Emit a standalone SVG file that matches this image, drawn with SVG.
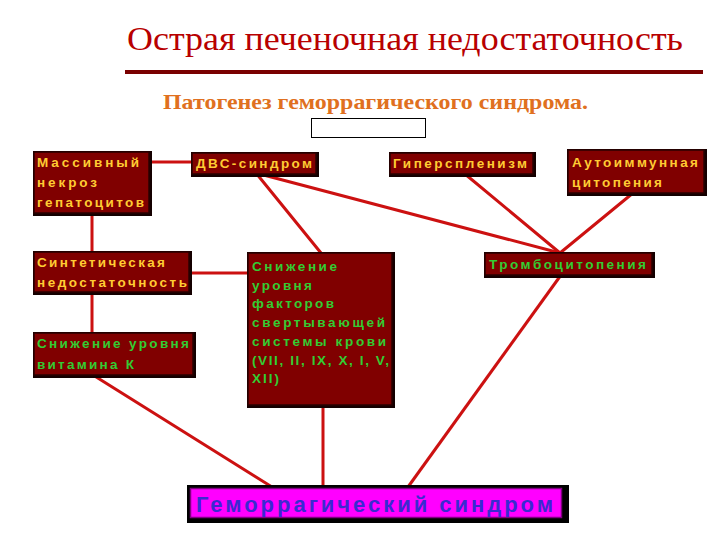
<svg xmlns="http://www.w3.org/2000/svg" width="720" height="540" viewBox="0 0 720 540">
<style>
.sh{fill:#140000}
.bx{fill:#800000;stroke:#2a0000;stroke-width:1.5}
.t{font-family:"Liberation Sans",Arial,sans-serif;font-weight:bold;font-size:13.5px}
.y{fill:#ffcc33}
.g{fill:#33cc33}
.c{stroke:#cc1111;stroke-width:3;fill:none;stroke-linecap:round}
</style>
<rect width="720" height="540" fill="#ffffff"/>
<text x="127" y="50" font-family="'Liberation Serif','Times New Roman',serif" font-size="33" fill="#b80000" textLength="556" lengthAdjust="spacingAndGlyphs">Острая печеночная недостаточность</text>
<rect x="125" y="70" width="578" height="4" fill="#7a0000"/>
<text x="163" y="109" font-family="'Liberation Serif','Times New Roman',serif" font-size="21" font-weight="bold" fill="#e07020" textLength="425" lengthAdjust="spacingAndGlyphs">Патогенез геморрагического синдрома.</text>
<rect x="311.5" y="118.5" width="114" height="19" fill="#ffffff" stroke="#000000" stroke-width="1"/>
<g id="connectors">
<line class="c" x1="149" y1="162" x2="192" y2="162"/>
<line class="c" x1="92" y1="213" x2="92" y2="252"/>
<line class="c" x1="92" y1="292" x2="92" y2="333"/>
<line class="c" x1="189" y1="273" x2="248" y2="273"/>
<line class="c" x1="256" y1="173" x2="321" y2="253"/>
<line class="c" x1="256" y1="173" x2="560" y2="253"/>
<line class="c" x1="465" y1="174" x2="560" y2="253"/>
<line class="c" x1="633" y1="193" x2="560" y2="253"/>
<line class="c" x1="561" y1="275" x2="408" y2="487"/>
<line class="c" x1="93" y1="375" x2="272" y2="487"/>
<line class="c" x1="323" y1="405" x2="323" y2="487"/>
</g>
<g id="n1">
<rect class="sh" x="33" y="151" width="119" height="65"/>
<rect class="bx" x="34" y="152" width="115" height="61"/>
<text class="t y" x="37" y="167" textLength="102" lengthAdjust="spacing">Массивный</text>
<text class="t y" x="37" y="187" textLength="60" lengthAdjust="spacing">некроз</text>
<text class="t y" x="37" y="207" textLength="107" lengthAdjust="spacing">гепатоцитов</text>
</g>
<g id="n2">
<rect class="sh" x="191" y="152" width="128" height="25"/>
<rect class="bx" x="192" y="153" width="124" height="21"/>
<text class="t y" x="196" y="168" textLength="116" lengthAdjust="spacing">ДВС-синдром</text>
</g>
<g id="n3">
<rect class="sh" x="389" y="152" width="147" height="25"/>
<rect class="bx" x="390" y="153" width="143" height="21"/>
<text class="t y" x="393" y="168" textLength="134" lengthAdjust="spacing">Гиперспленизм</text>
</g>
<g id="n4">
<rect class="sh" x="567" y="149" width="140" height="47"/>
<rect class="bx" x="568" y="150" width="136" height="43"/>
<text class="t y" x="572" y="167" textLength="126" lengthAdjust="spacing">Аутоиммунная</text>
<text class="t y" x="572" y="187" textLength="90" lengthAdjust="spacing">цитопения</text>
</g>
<g id="n5">
<rect class="sh" x="33" y="251" width="159" height="44"/>
<rect class="bx" x="34" y="252" width="155" height="40"/>
<text class="t y" x="37" y="267" textLength="128" lengthAdjust="spacing">Синтетическая</text>
<text class="t y" x="37" y="287" textLength="150" lengthAdjust="spacing">недостаточность</text>
</g>
<g id="n6">
<rect class="sh" x="33" y="332" width="163" height="46"/>
<rect class="bx" x="34" y="333" width="159" height="42"/>
<text class="t g" x="37" y="348" textLength="152" lengthAdjust="spacing">Снижение уровня</text>
<text class="t g" x="37" y="369" textLength="97" lengthAdjust="spacing">витамина К</text>
</g>
<g id="n7">
<rect class="sh" x="247" y="252" width="148" height="156"/>
<rect class="bx" x="248" y="253" width="144" height="152"/>
<text class="t g" x="252" y="271" textLength="85" lengthAdjust="spacing">Снижение</text>
<text class="t g" x="252" y="290" textLength="60" lengthAdjust="spacing">уровня</text>
<text class="t g" x="252" y="308" textLength="82" lengthAdjust="spacing">факторов</text>
<text class="t g" x="252" y="327" textLength="133" lengthAdjust="spacing">свертывающей</text>
<text class="t g" x="252" y="346" textLength="134" lengthAdjust="spacing">системы крови</text>
<text class="t g" x="252" y="365" textLength="137" lengthAdjust="spacing">(VII, II, IX, X, I, V,</text>
<text class="t g" x="252" y="383" textLength="27" lengthAdjust="spacing">XII)</text>
</g>
<g id="n8">
<rect class="sh" x="484" y="252" width="171" height="26"/>
<rect class="bx" x="485" y="253" width="167" height="22"/>
<text class="t g" x="489" y="269" textLength="157" lengthAdjust="spacing">Тромбоцитопения</text>
</g>
<g id="n9">
<rect x="187" y="485" width="382" height="38" fill="#000000"/>
<rect x="190.5" y="488.5" width="371" height="29" fill="#ff00ff" stroke="#800080" stroke-width="1.5"/>
<text x="196" y="512" font-family="'Liberation Sans',Arial,sans-serif" font-weight="bold" font-size="22" fill="#3a2ad0" textLength="357" lengthAdjust="spacing">Геморрагический синдром</text>
</g>
</svg>
